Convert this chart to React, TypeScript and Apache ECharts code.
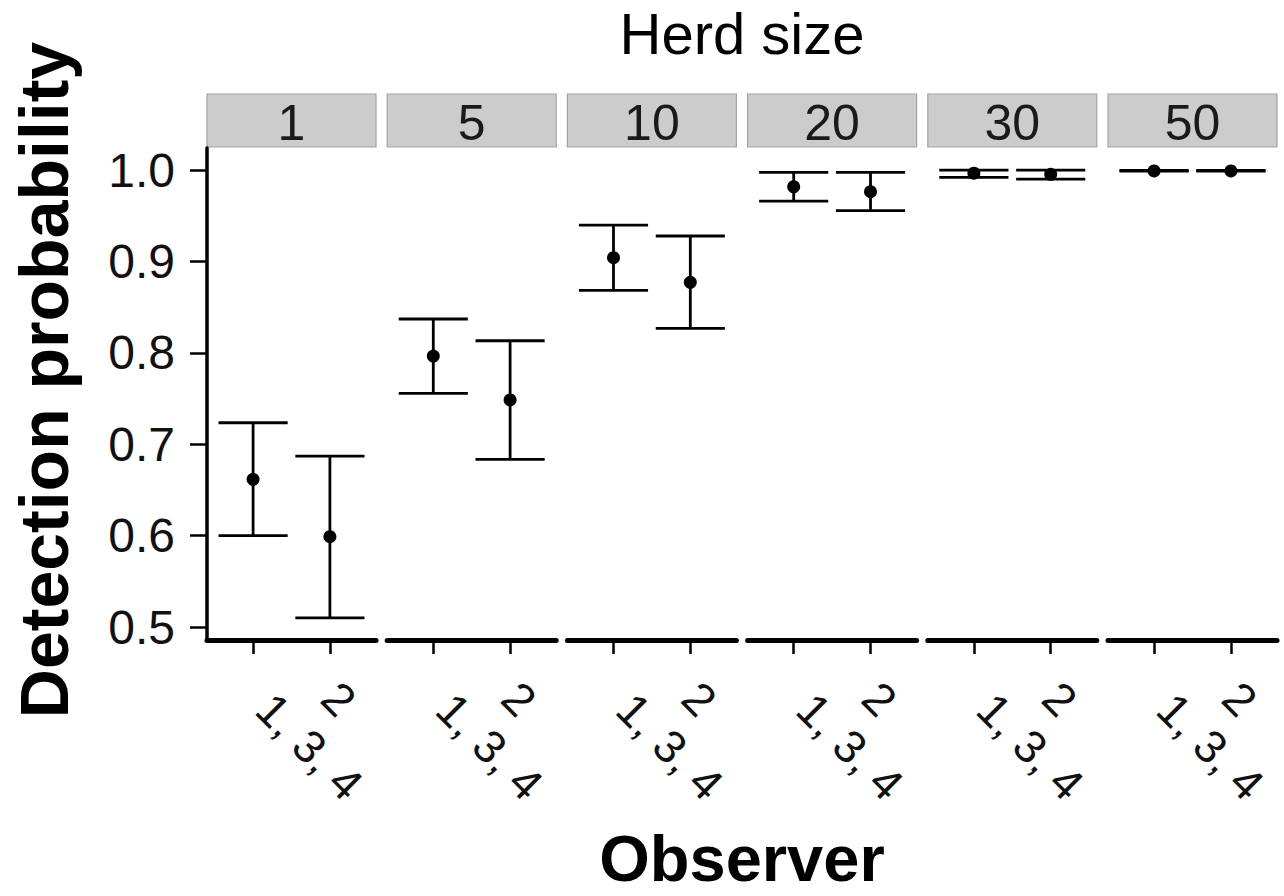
import React, { useEffect, useRef } from "react";
import * as echarts from "echarts";

// ---- data ----
const herdSizes = ["1", "5", "10", "20", "30", "50"];
const observers = ["1, 3, 4", "2"];
const yTicks = [0.5, 0.6, 0.7, 0.8, 0.9, 1.0];

const estObs134 = [0.6616, 0.7965, 0.9041, 0.9817, 0.9966, 0.999];
const lowObs134 = [0.5999, 0.7557, 0.8684, 0.966, 0.992, 0.9988];
const uppObs134 = [0.7235, 0.837, 0.9398, 0.9975, 1.0, 0.9995];

const estObs2 = [0.5988, 0.7484, 0.8771, 0.9763, 0.9953, 0.999];
const lowObs2 = [0.51, 0.6835, 0.8268, 0.9555, 0.99, 0.9988];
const uppObs2 = [0.687, 0.8132, 0.9278, 0.9975, 1.0, 0.9995];

// ---- layout ----
const FONT = "'Liberation Sans', Arial, sans-serif";
const PANEL_LEFT = 207;
const PANEL_STEP = 180.2;
const PANEL_W = 169;
const PANEL_TOP = 148;
const PANEL_BOTTOM = 640;
const STRIP_TOP = 94;
const STRIP_H = 53;
const CAP_HALF = 0.45;

export default function App() {
  const ref = useRef<HTMLDivElement>(null);

  useEffect(() => {
    if (!ref.current) return;
    const chart = echarts.init(ref.current, undefined, { renderer: "svg" });

    const grids: any[] = [];
    const xAxes: any[] = [];
    const yAxes: any[] = [];
    const series: any[] = [];
    const graphics: any[] = [];

    herdSizes.forEach((hs, i) => {
      const left = PANEL_LEFT + i * PANEL_STEP;
      grids.push({
        left,
        top: PANEL_TOP,
        width: PANEL_W,
        height: PANEL_BOTTOM - PANEL_TOP,
        containLabel: false,
      });
      xAxes.push({
        gridIndex: i,
        type: "value",
        min: 0.4,
        max: 2.6,
        splitLine: { show: false },
        axisLine: { show: true, onZero: false, lineStyle: { color: "#000", width: 5 } },
        axisTick: {
          show: true,
          customValues: [1, 2],
          length: 14,
          lineStyle: { color: "#000", width: 2.5 },
        },
        axisLabel: {
          show: true,
          customValues: [1, 2],
          formatter: (v: number) => {
            const idx = Math.round(v) - 1;
            const t = observers[idx] ?? "";
            return idx === 0 ? `{long|${t}}` : `{short|${t}}`;
          },
          rotate: -45,
          margin: 50,
          fontSize: 46,
          fontFamily: FONT,
          color: "#111",
          rich: {
            long: { fontSize: 46, fontFamily: FONT, color: "#111", padding: [0, 0, 0, 16] },
            short: { fontSize: 46, fontFamily: FONT, color: "#111" },
          },
        },
      });
      yAxes.push({
        gridIndex: i,
        type: "value",
        min: 0.4858,
        max: 1.0241,
        splitLine: { show: false },
        axisLine: {
          show: i === 0,
          onZero: false,
          lineStyle: { color: "#000", width: 3.5 },
        },
        axisTick: {
          show: i === 0,
          customValues: yTicks,
          length: 17,
          lineStyle: { color: "#000", width: 2.5 },
        },
        axisLabel: {
          show: i === 0,
          customValues: yTicks,
          formatter: (v: number) => v.toFixed(1),
          margin: 32,
          fontSize: 48,
          fontFamily: FONT,
          color: "#111",
        },
      });

      const barData = [
        [1, lowObs134[i], uppObs134[i]],
        [2, lowObs2[i], uppObs2[i]],
      ];
      series.push({
        type: "custom",
        xAxisIndex: i,
        yAxisIndex: i,
        data: barData,
        encode: { x: 0, y: [1, 2] },
        clip: false,
        renderItem: (_params: any, api: any) => {
          const x = api.value(0);
          const lo = api.value(1);
          const hi = api.value(2);
          const pLo = api.coord([x, lo]);
          const pHi = api.coord([x, hi]);
          const l = api.coord([x - CAP_HALF, lo])[0];
          const r = api.coord([x + CAP_HALF, lo])[0];
          const style = { stroke: "#000", lineWidth: 2.8 };
          return {
            type: "group",
            children: [
              { type: "line", shape: { x1: pLo[0], y1: pLo[1], x2: pHi[0], y2: pHi[1] }, style },
              { type: "line", shape: { x1: l, y1: pHi[1], x2: r, y2: pHi[1] }, style },
              { type: "line", shape: { x1: l, y1: pLo[1], x2: r, y2: pLo[1] }, style },
            ],
          };
        },
        z: 2,
      });
      series.push({
        type: "scatter",
        xAxisIndex: i,
        yAxisIndex: i,
        data: [
          [1, estObs134[i]],
          [2, estObs2[i]],
        ],
        symbol: "circle",
        symbolSize: 13,
        itemStyle: { color: "#000", opacity: 1 },
        z: 3,
      });

      graphics.push({
        type: "rect",
        shape: { x: left, y: STRIP_TOP, width: PANEL_W, height: STRIP_H },
        style: { fill: "#CCCCCC", stroke: "#A3A3A3", lineWidth: 1.2 },
      });
      graphics.push({
        type: "text",
        x: left + PANEL_W / 2,
        y: STRIP_TOP + STRIP_H / 2 + 2,
        style: {
          text: hs,
          fontSize: 50,
          fontFamily: FONT,
          fill: "#1a1a1a",
          textAlign: "center",
          textVerticalAlign: "middle",
        },
      });
    });

    const plotCenter = PANEL_LEFT + (5 * PANEL_STEP + PANEL_W) / 2;

    graphics.push({
      type: "text",
      x: plotCenter,
      y: 33,
      style: {
        text: "Herd size",
        fontSize: 58,
        fontFamily: FONT,
        fill: "#000",
        textAlign: "center",
        textVerticalAlign: "middle",
      },
    });
    graphics.push({
      type: "text",
      x: plotCenter,
      y: 858,
      style: {
        text: "Observer",
        fontSize: 65,
        fontWeight: "bold",
        fontFamily: FONT,
        fill: "#000",
        textAlign: "center",
        textVerticalAlign: "middle",
      },
    });
    graphics.push({
      type: "text",
      x: 44,
      y: 380,
      rotation: Math.PI / 2,
      style: {
        text: "Detection probability",
        fontSize: 68,
        fontWeight: "bold",
        fontFamily: FONT,
        fill: "#000",
        textAlign: "center",
        textVerticalAlign: "middle",
      },
    });

    chart.setOption({
      animation: false,
      backgroundColor: "#fff",
      grid: grids,
      xAxis: xAxes,
      yAxis: yAxes,
      series,
      graphic: graphics,
    });

    return () => chart.dispose();
  }, []);

  return (
    <div
      ref={ref}
      style={{ position: "fixed", left: 0, top: 0, width: 1284, height: 896, background: "#fff" }}
    />
  );
}
